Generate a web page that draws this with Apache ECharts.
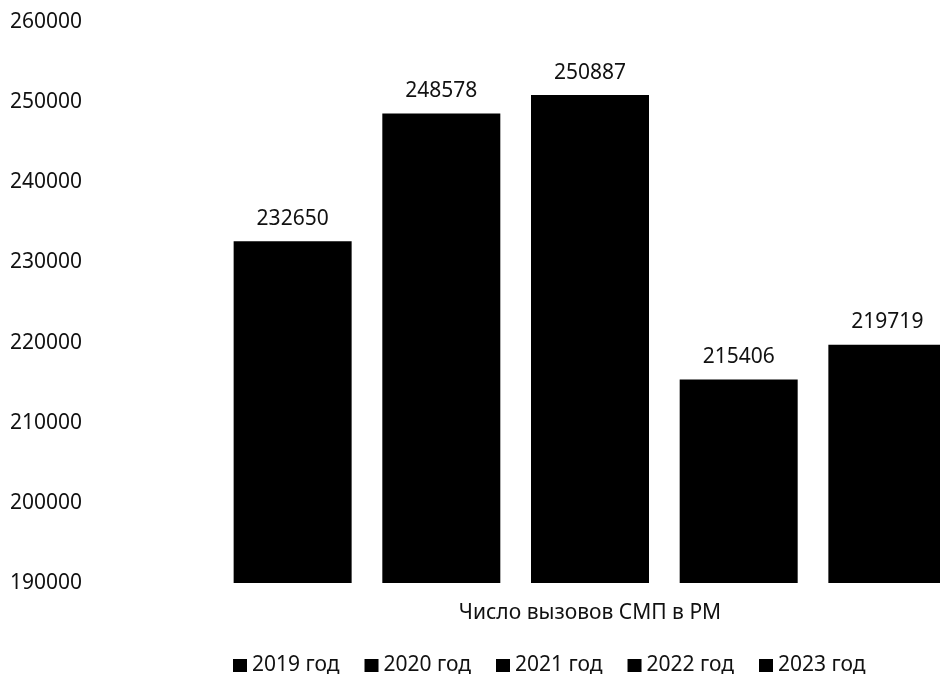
<!DOCTYPE html>
<html>
<head>
<meta charset="utf-8">
<script src="https://cdn.jsdelivr.net/npm/echarts@6/dist/echarts.min.js"></script>
<style>
html,body{margin:0;padding:0;background:#fff;}
#chart{width:940px;height:680px;}
</style>
</head>
<body>
<div id="chart"></div>
<script>
const categories = ['Число вызовов СМП в РМ'];
const seriesNames = ['2019 год', '2020 год', '2021 год', '2022 год', '2023 год'];
const seriesValues = [232650, 248578, 250887, 215406, 219719];
const yTicks = [190000, 200000, 210000, 220000, 230000, 240000, 250000, 260000];

const FONT = 'Noto Sans';
const chart = echarts.init(document.getElementById('chart'), null, {renderer: 'canvas'});
const option = {
  animation: false,
  backgroundColor: '#ffffff',
  textStyle: {fontFamily: FONT, color: '#111'},
  grid: {left: 200, top: 22, bottom: 97, width: 780, containLabel: false, outerBoundsMode: 'none'},
  legend: {
    data: seriesNames,
    left: 228,
    top: 650,
    icon: 'rect',
    itemWidth: 14,
    itemHeight: 13,
    itemGap: 25,
    textStyle: {fontFamily: FONT, fontSize: 21, color: '#111'}
  },
  xAxis: {
    type: 'category',
    data: categories,
    axisLine: {show: false},
    axisTick: {show: false},
    splitLine: {show: false},
    axisLabel: {fontFamily: FONT, fontSize: 21, color: '#111', margin: 20}
  },
  yAxis: {
    type: 'value',
    min: yTicks[0],
    max: yTicks[yTicks.length - 1],
    interval: 10000,
    axisLine: {show: false},
    axisTick: {show: false},
    splitLine: {show: false},
    axisLabel: {fontFamily: FONT, fontSize: 21, color: '#111', align: 'left', margin: 190,
      formatter: v => String(v)}
  },
  series: seriesNames.map((name, i) => ({
    name: name,
    type: 'bar',
    data: [seriesValues[i]],
    barWidth: 118,
    barGap: '26%',
    itemStyle: {color: '#000000'},
    label: {
      show: true,
      position: 'top',
      distance: 12,
      fontFamily: FONT,
      fontSize: 21,
      color: '#111'
    }
  }))
};
chart.setOption(option);
</script>
</body>
</html>
